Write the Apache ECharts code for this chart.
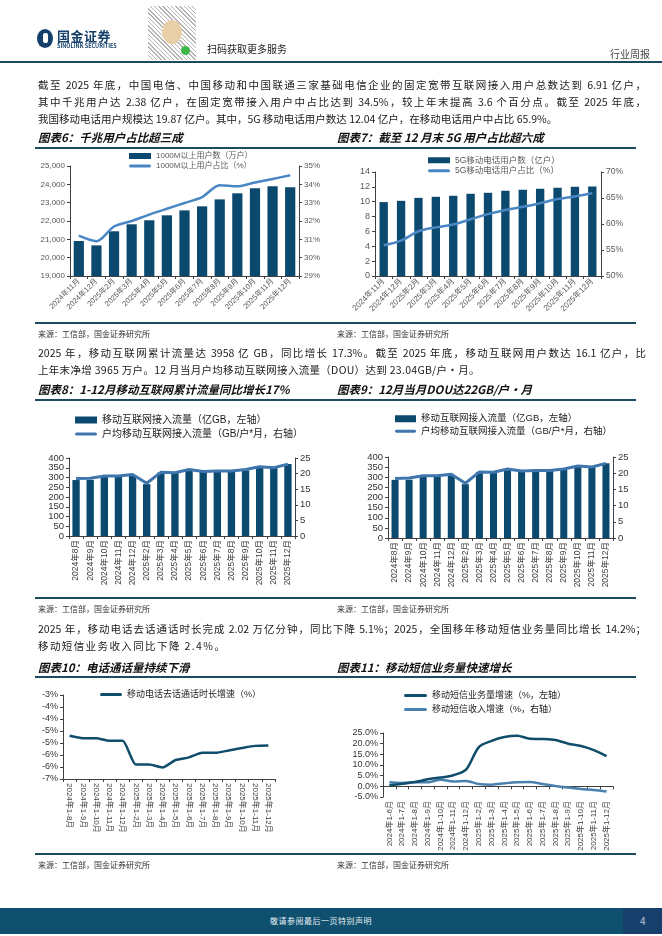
<!DOCTYPE html>
<html><head><meta charset="utf-8">
<script src="https://cdn.jsdelivr.net/npm/echarts@6/dist/echarts.min.js"></script>
<style>
html,body{margin:0;padding:0}
body{width:662px;height:936px;position:relative;background:#fff;font-family:"Noto Sans CJK SC","Noto Sans",sans-serif;overflow:hidden;color:#1a1a1a}
#chart{position:absolute;left:0;top:0;width:662px;height:936px;z-index:1}
.t{position:absolute;z-index:2;white-space:nowrap}
.p{position:absolute;z-index:2;left:38px;width:608px;font-size:10.5px;line-height:17px;white-space:nowrap;color:#1a1a1a}
.j{text-align:justify;text-align-last:justify}
.ls{letter-spacing:0.3px}
.ttl{position:absolute;z-index:2;font-size:11.5px;font-weight:bold;font-style:italic;color:#111;white-space:nowrap}
.rule{position:absolute;z-index:2;left:35px;width:601px;height:1.5px;background:#1d4a60}
.src{position:absolute;z-index:2;font-size:8px;color:#333;white-space:nowrap}
</style></head>
<body>
<!-- header -->
<div class="t" style="left:37px;top:29px;width:16px;height:19px;border-radius:50%;background:#14406b"></div>
<div class="t" style="left:43px;top:33px;width:5px;height:10px;border-radius:2px;background:#fff"></div>
<div class="t" style="left:57px;top:26px;font-size:13px;font-weight:bold;color:#14406b;letter-spacing:0.5px">国金证券</div>
<div class="t" style="left:57px;top:42px;font-size:5.5px;font-weight:bold;color:#14406b">SINOLINK SECURITIES</div>
<div class="t" style="left:148px;top:6px;width:48px;height:54px;background:repeating-linear-gradient(45deg,#777 0 1px,#fff 1px 3px),repeating-linear-gradient(-45deg,#999 0 1px,#fff 1px 4px);opacity:0.55"></div>
<div class="t" style="left:162px;top:20px;width:20px;height:24px;border-radius:50%;background:#e9cfa8"></div>
<div class="t" style="left:181px;top:46px;width:9px;height:9px;border-radius:50%;background:#3cb84a"></div>
<div class="t" style="left:207px;top:41px;font-size:10px;color:#222">扫码获取更多服务</div>
<div class="t" style="left:610px;top:46px;font-size:10px;color:#444">行业周报</div>
<div class="t" style="left:0;top:61px;width:662px;height:2px;background:#1d4a60"></div>

<!-- paragraph 1 -->
<div class="p j" style="top:76px">截至 2025 年底，中国电信、中国移动和中国联通三家基础电信企业的固定宽带互联网接入用户总数达到 6.91 亿户，</div>
<div class="p j" style="top:93px">其中千兆用户达 2.38 亿户，在固定宽带接入用户中占比达到 34.5%，较上年末提高 3.6 个百分点。截至 2025 年底，</div>
<div class="p" style="top:110px">我国移动电话用户规模达 19.87 亿户。其中，5G 移动电话用户数达 12.04 亿户，在移动电话用户中占比 65.9%。</div>

<div class="ttl" style="left:38px;top:129px">图表6：千兆用户占比超三成</div>
<div class="ttl" style="left:337px;top:129px">图表7：截至 12 月末 5G 用户占比超六成</div>
<div class="rule" style="top:147px"></div>
<div class="rule" style="top:322px"></div>
<div class="src" style="left:38px;top:328px">来源：工信部，国金证券研究所</div>
<div class="src" style="left:337px;top:328px">来源：工信部，国金证券研究所</div>

<!-- paragraph 2 -->
<div class="p j" style="top:344px">2025 年，移动互联网累计流量达 3958 亿 GB，同比增长 17.3%。截至 2025 年底，移动互联网用户数达 16.1 亿户，比</div>
<div class="p ls" style="top:361px">上年末净增 3965 万户。12 月当月户均移动互联网接入流量（DOU）达到 23.04GB/户・月。</div>

<div class="ttl" style="left:38px;top:381px">图表8：1-12月移动互联网累计流量同比增长17%</div>
<div class="ttl" style="left:337px;top:381px">图表9：12月当月DOU达22GB/户·月</div>
<div class="rule" style="top:399px"></div>
<div class="rule" style="top:597px"></div>
<div class="src" style="left:38px;top:603px">来源：工信部，国金证券研究所</div>
<div class="src" style="left:337px;top:603px">来源：工信部，国金证券研究所</div>

<!-- paragraph 3 -->
<div class="p j" style="top:620px">2025 年，移动电话去话通话时长完成 2.02 万亿分钟，同比下降 5.1%；2025，全国移年移动短信业务量同比增长 14.2%；</div>
<div class="p" style="top:637px;letter-spacing:1.4px">移动短信业务收入同比下降 2.4%。</div>

<div class="ttl" style="left:38px;top:659px">图表10：电话通话量持续下滑</div>
<div class="ttl" style="left:337px;top:659px">图表11：移动短信业务量快速增长</div>
<div class="rule" style="top:676px"></div>
<div class="rule" style="top:853px"></div>
<div class="src" style="left:38px;top:859px">来源：工信部，国金证券研究所</div>
<div class="src" style="left:337px;top:859px">来源：工信部，国金证券研究所</div>

<!-- footer -->
<div class="t" style="left:0;top:908px;width:662px;height:26px;background:#10506f"></div>
<div class="t" style="left:623px;top:908px;width:39px;height:26px;background:#16406b"></div>
<div class="t" style="left:270px;top:915px;font-size:8px;color:#e6eef3;letter-spacing:0.5px">敬请参阅最后一页特别声明</div>
<div class="t" style="left:640px;top:913px;font-size:10px;color:#b9c8d8">4</div>

<div id="chart"></div>
<script>
// ---------- data ----------
const c6Cats = ['2024年11月','2024年12月','2025年2月','2025年3月','2025年4月','2025年5月','2025年6月','2025年7月','2025年8月','2025年9月','2025年10月','2025年11月','2025年12月'];
const c6Users = [20910, 20670, 21440, 21820, 22040, 22310, 22580, 22800, 23180, 23510, 23780, 23890, 23840];
const c6Share = [31.2, 30.9, 31.7, 32.0, 32.35, 32.67, 32.98, 33.3, 33.95, 33.89, 34.1, 34.29, 34.5];

const c7Cats = ['2024年11月','2024年12月','2025年2月','2025年3月','2025年4月','2025年5月','2025年6月','2025年7月','2025年8月','2025年9月','2025年10月','2025年11月','2025年12月'];
const c7Users = [9.95, 10.12, 10.52, 10.66, 10.8, 11.07, 11.2, 11.47, 11.6, 11.74, 11.88, 12.01, 12.04];
const c7Share = [55.9, 56.8, 58.6, 59.35, 59.9, 60.9, 61.9, 62.7, 63.3, 64.0, 64.8, 65.3, 65.9];

const c8Cats = ['2024年8月','2024年9月','2024年10月','2024年11月','2024年12月','2025年2月','2025年3月','2025年4月','2025年5月','2025年6月','2025年7月','2025年8月','2025年9月','2025年10月','2025年11月','2025年12月'];
const c8Flow = [287, 288, 303, 305, 311, 266, 325, 323, 338, 330, 331, 331, 337, 354, 349, 369];
const c8Dou = [18.4, 18.5, 19.2, 19.2, 19.7, 16.9, 20.4, 20.3, 21.3, 20.7, 20.8, 20.8, 21.3, 22.2, 21.9, 23.04];

const c9Cats = c8Cats;
const c9Flow = [287, 288, 303, 305, 311, 266, 325, 323, 338, 330, 331, 331, 337, 354, 349, 369];
const c9Dou = [18.4, 18.5, 19.2, 19.2, 19.7, 16.9, 20.4, 20.3, 21.3, 20.7, 20.8, 20.8, 21.3, 22.2, 21.9, 23.04];

const c10Cats = ['2024年1-8月','2024年1-9月','2024年1-10月','2024年1-11月','2024年1-12月','2025年1-2月','2025年1-3月','2025年1-4月','2025年1-5月','2025年1-6月','2025年1-7月','2025年1-8月','2025年1-9月','2025年1-10月','2025年1-11月','2025年1-12月'];
const c10Growth = [-4.70, -4.80, -4.80, -4.91, -4.91, -5.90, -5.90, -6.02, -5.71, -5.60, -5.41, -5.41, -5.31, -5.21, -5.12, -5.10];

const c11Cats = ['2024年1-6月','2024年1-7月','2024年1-8月','2024年1-9月','2024年1-10月','2024年1-11月','2024年1-12月','2025年1-2月','2025年1-3月','2025年1-4月','2025年1-5月','2025年1-6月','2025年1-7月','2025年1-8月','2025年1-9月','2025年1-10月','2025年1-11月','2025年1-12月'];
const c11Volume = [0.5, 1.2, 2.0, 3.3, 4.1, 5.2, 7.8, 18.4, 21.3, 23.1, 23.7, 22.3, 22.2, 21.7, 20.0, 18.9, 17.0, 14.2];
const c11Revenue = [1.9, 1.6, 1.9, 1.9, 3.1, 2.3, 2.5, 1.1, 0.8, 1.4, 1.9, 2.0, 1.1, 0.2, -0.6, -1.25, -1.7, -2.4];

const names = {
  c6b:'1000M以上用户数（万户）', c6l:'1000M以上用户占比（%）',
  c7b:'5G移动电话用户数（亿户）', c7l:'5G移动电话用户占比（%）',
  c8b:'移动互联网接入流量（亿GB，左轴）', c8l:'户均移动互联网接入流量（GB/户*月，右轴）',
  c10:'移动电话去话通话时长增速（%）',
  c11a:'移动短信业务量增速（%，左轴）', c11b:'移动短信收入增速（%，右轴）'
};

// ---------- styles ----------
const BAR = '#0b4a6e', LINE = '#4a86c4', DARK = '#0f4d6b', MID = '#3f76ad';
const FF = '"Liberation Sans","Noto Sans CJK SC",sans-serif';
const LINE_ICON = 'path://M1.5,0 H20.5 A1.5,1.5 0 0 1 20.5,3 H1.5 A1.5,1.5 0 0 1 1.5,0 Z';
function vAxis(gi, min, max, interval, fmt, pos, color, fs){
  return {type:'value', gridIndex:gi, min, max, interval, position:pos,
    axisLine:{show:true, lineStyle:{color:'#404040', width:1}},
    axisTick:{show:true, length:3, lineStyle:{color:'#404040'}},
    splitLine:{show:false},
    axisLabel:{formatter:fmt, color:color, fontSize:fs, fontFamily:FF, margin:5}};
}
function cAxis(gi, data, rotate, fs, color){
  return {type:'category', gridIndex:gi, data, boundaryGap:true,
    axisLine:{show:true, onZero:true, lineStyle:{color:'#404040', width:1}},
    axisTick:{show:true, length:3, alignWithLabel:false, lineStyle:{color:'#404040'}},
    axisLabel:{interval:0, rotate, fontSize:fs, color, fontFamily:FF, margin:4}};
}
const thou = v => v.toLocaleString('en-US');
const pct = v => v + '%';
const pctRound = v => { const s = v < 0 ? -1 : 1; return (s * Math.round(Math.abs(v))) + '%'; };
const pct1 = v => v.toFixed(1) + '%';
const lineItem = n => ({name:n, icon:LINE_ICON});

const grids = [
  {left:70, top:166, width:229, height:110},
  {left:375, top:172, width:226, height:104},
  {left:69, top:458, width:226, height:78},
  {left:388, top:457, width:225, height:81},
  {left:63, top:695, width:212, height:84},
  {left:383, top:733, width:230, height:64}
].map(g => Object.assign({containLabel:false, outerBoundsMode:'none'}, g));

const option = {
  animation:false,
  textStyle:{fontFamily:FF},
  grid: grids,
  xAxis:[
    cAxis(0, c6Cats, 45, 7.5, '#595959'),
    cAxis(1, c7Cats, 45, 8, '#595959'),
    cAxis(2, c8Cats, 90, 8.5, '#404040'),
    cAxis(3, c9Cats, 90, 8.5, '#404040'),
    cAxis(4, c10Cats, -90, 8, '#404040'),
    cAxis(5, c11Cats, 90, 8, '#404040')
  ],
  yAxis:[
    vAxis(0, 19000, 25000, 1000, thou, 'left', '#595959', 8),
    vAxis(0, 29, 35, 1, pct, 'right', '#595959', 8),
    vAxis(1, 0, 14, 2, null, 'left', '#595959', 9),
    vAxis(1, 50, 70, 5, pct, 'right', '#595959', 8.5),
    vAxis(2, 0, 400, 50, null, 'left', '#333', 9.5),
    vAxis(2, 0, 25, 5, null, 'right', '#333', 9.5),
    vAxis(3, 0, 400, 50, null, 'left', '#333', 9.5),
    vAxis(3, 0, 25, 5, null, 'right', '#333', 9.5),
    vAxis(4, -6.5, -3, 0.5, pctRound, 'left', '#333', 9),
    vAxis(5, -5, 25, 5, pct1, 'left', '#333', 9)
  ],
  legend:[
    {data:[{name:names.c6b, icon:'rect'}, lineItem(names.c6l)], orient:'vertical', left:129, top:152, padding:0, itemGap:2, itemWidth:22, itemHeight:6,
     textStyle:{fontSize:8, color:'#595959'}},
    {data:[{name:names.c7b, icon:'rect'}, lineItem(names.c7l)], orient:'vertical', left:428, top:156, padding:0, itemGap:2, itemWidth:22, itemHeight:6,
     textStyle:{fontSize:8.5, color:'#595959'}},
    {data:[{name:names.c8b, icon:'rect'}, lineItem(names.c8l)], orient:'vertical', left:75, top:415, padding:0, itemGap:4, itemWidth:22, itemHeight:7,
     textStyle:{fontSize:10, color:'#222'}},
    {data:[{name:names.c8b, icon:'rect'}, lineItem(names.c8l)], orient:'vertical', left:395, top:414, padding:0, itemGap:3, itemWidth:21, itemHeight:7,
     textStyle:{fontSize:9.5, color:'#222'}},
    {data:[lineItem(names.c10)], orient:'vertical', left:100, top:690, padding:0, itemWidth:22, itemHeight:6,
     textStyle:{fontSize:9, color:'#222'}},
    {data:[lineItem(names.c11a), lineItem(names.c11b)], orient:'vertical', left:404, top:691, padding:0, itemGap:5, itemWidth:23, itemHeight:6,
     textStyle:{fontSize:9, color:'#222'}}
  ],
  series:[
    {name:names.c6b, type:'bar', xAxisIndex:0, yAxisIndex:0, data:c6Users, barWidth:'58%', itemStyle:{color:BAR}},
    {name:names.c6l, type:'line', xAxisIndex:0, yAxisIndex:1, data:c6Share, symbol:'none', smooth:0.3, lineStyle:{color:LINE, width:2.5}, itemStyle:{color:LINE}, z:3},
    {name:names.c7b, type:'bar', xAxisIndex:1, yAxisIndex:2, data:c7Users, barWidth:'48%', itemStyle:{color:BAR}},
    {name:names.c7l, type:'line', xAxisIndex:1, yAxisIndex:3, data:c7Share, symbol:'none', smooth:0.3, lineStyle:{color:LINE, width:2.5}, itemStyle:{color:LINE}, z:3},
    {name:names.c8b, type:'bar', xAxisIndex:2, yAxisIndex:4, data:c8Flow, barWidth:'52%', itemStyle:{color:BAR}},
    {name:names.c8l, type:'line', xAxisIndex:2, yAxisIndex:5, data:c8Dou, symbol:'none', lineStyle:{color:MID, width:3}, itemStyle:{color:MID}, z:3},
    {name:names.c8b, type:'bar', xAxisIndex:3, yAxisIndex:6, data:c9Flow, barWidth:'50%', itemStyle:{color:BAR}},
    {name:names.c8l, type:'line', xAxisIndex:3, yAxisIndex:7, data:c9Dou, symbol:'none', lineStyle:{color:MID, width:3}, itemStyle:{color:MID}, z:3},
    {name:names.c10, type:'line', xAxisIndex:4, yAxisIndex:8, data:c10Growth, symbol:'none', smooth:0.2, lineStyle:{color:DARK, width:2.5}, itemStyle:{color:DARK}},
    {name:names.c11a, type:'line', xAxisIndex:5, yAxisIndex:9, data:c11Volume, symbol:'none', smooth:0.3, lineStyle:{color:DARK, width:2.5}, itemStyle:{color:DARK}, z:3},
    {name:names.c11b, type:'line', xAxisIndex:5, yAxisIndex:9, data:c11Revenue, symbol:'none', smooth:0.3, lineStyle:{color:'#4a80b0', width:2.5}, itemStyle:{color:'#4a80b0'}, z:2}
  ]
};
const chart = echarts.init(document.getElementById('chart'), null, {renderer:'canvas'});
chart.setOption(option);
</script>
</body></html>
